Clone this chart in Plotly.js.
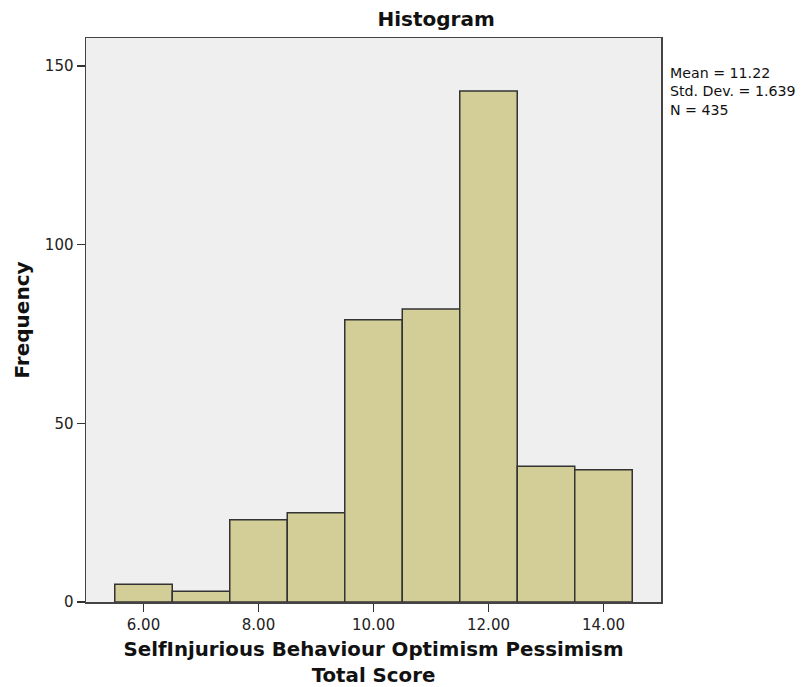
<!DOCTYPE html>
<html>
<head>
<meta charset="utf-8">
<script src="https://cdn.plot.ly/plotly-3.0.1.min.js"></script>
<style>
html,body{margin:0;padding:0;background:#fff;}
#chart{width:802px;height:687px;}
</style>
</head>
<body>
<div id="chart"></div>
<script>
const binCenters = [6, 7, 8, 9, 10, 11, 12, 13, 14];
const frequencies = [5, 3, 23, 25, 79, 82, 143, 38, 37];
const xTickVals = [6, 8, 10, 12, 14];
const xTickText = ["6.00", "8.00", "10.00", "12.00", "14.00"];
const yTickVals = [0, 50, 100, 150];
const statsLines = ["Mean = 11.22", "Std. Dev. = 1.639", "N = 435"];

const fontFam = '"DejaVu Sans", "Liberation Sans", sans-serif';

const trace = {
  type: 'bar',
  x: binCenters,
  y: frequencies,
  width: 1,
  marker: {color: '#d3ce97', line: {color: '#333333', width: 1.5}},
  hoverinfo: 'x+y'
};

const layout = {
  width: 802,
  height: 687,
  margin: {l: 86, r: 141, t: 38, b: 85, pad: 0},
  paper_bgcolor: '#ffffff',
  plot_bgcolor: '#efefef',
  showlegend: false,
  bargap: 0,
  title: {
    text: '<b>Histogram</b>',
    font: {family: fontFam, size: 20, color: '#111'},
    x: 0.609, xanchor: 'center', xref: 'paper',
    y: 0.972, yanchor: 'middle', yref: 'container'
  },
  xaxis: {
    range: [5, 15],
    tickvals: xTickVals,
    ticktext: xTickText,
    ticks: 'outside', ticklen: 8, tickwidth: 1.5, tickcolor: '#333',
    showline: true, linecolor: '#444', linewidth: 1.5, mirror: true,
    showgrid: false, zeroline: false,
    tickfont: {family: fontFam, size: 15, color: '#222'},
    title: {
      text: '<b>SelfInjurious Behaviour Optimism Pessimism<br>Total Score</b>',
      font: {family: fontFam, size: 19.8, color: '#111'},
      standoff: 14
    }
  },
  yaxis: {
    range: [0, 157.8],
    tickvals: yTickVals,
    ticks: 'outside', ticklen: 8, tickwidth: 1.5, tickcolor: '#333',
    showline: true, linecolor: '#444', linewidth: 1.5, mirror: true,
    showgrid: false, zeroline: false,
    tickfont: {family: fontFam, size: 15, color: '#222'},
    title: {
      text: '<b>Frequency</b>',
      font: {family: fontFam, size: 20, color: '#111'},
      standoff: 10
    }
  },
  annotations: [{
    xref: 'paper', yref: 'paper',
    x: 1.0125, y: 0.906,
    xanchor: 'left', yanchor: 'middle',
    align: 'left',
    showarrow: false,
    text: statsLines.join('<br>'),
    font: {family: fontFam, size: 14.2, color: '#111'}
  }]
};

Plotly.newPlot('chart', [trace], layout, {displayModeBar: false, staticPlot: true});
</script>
</body>
</html>
